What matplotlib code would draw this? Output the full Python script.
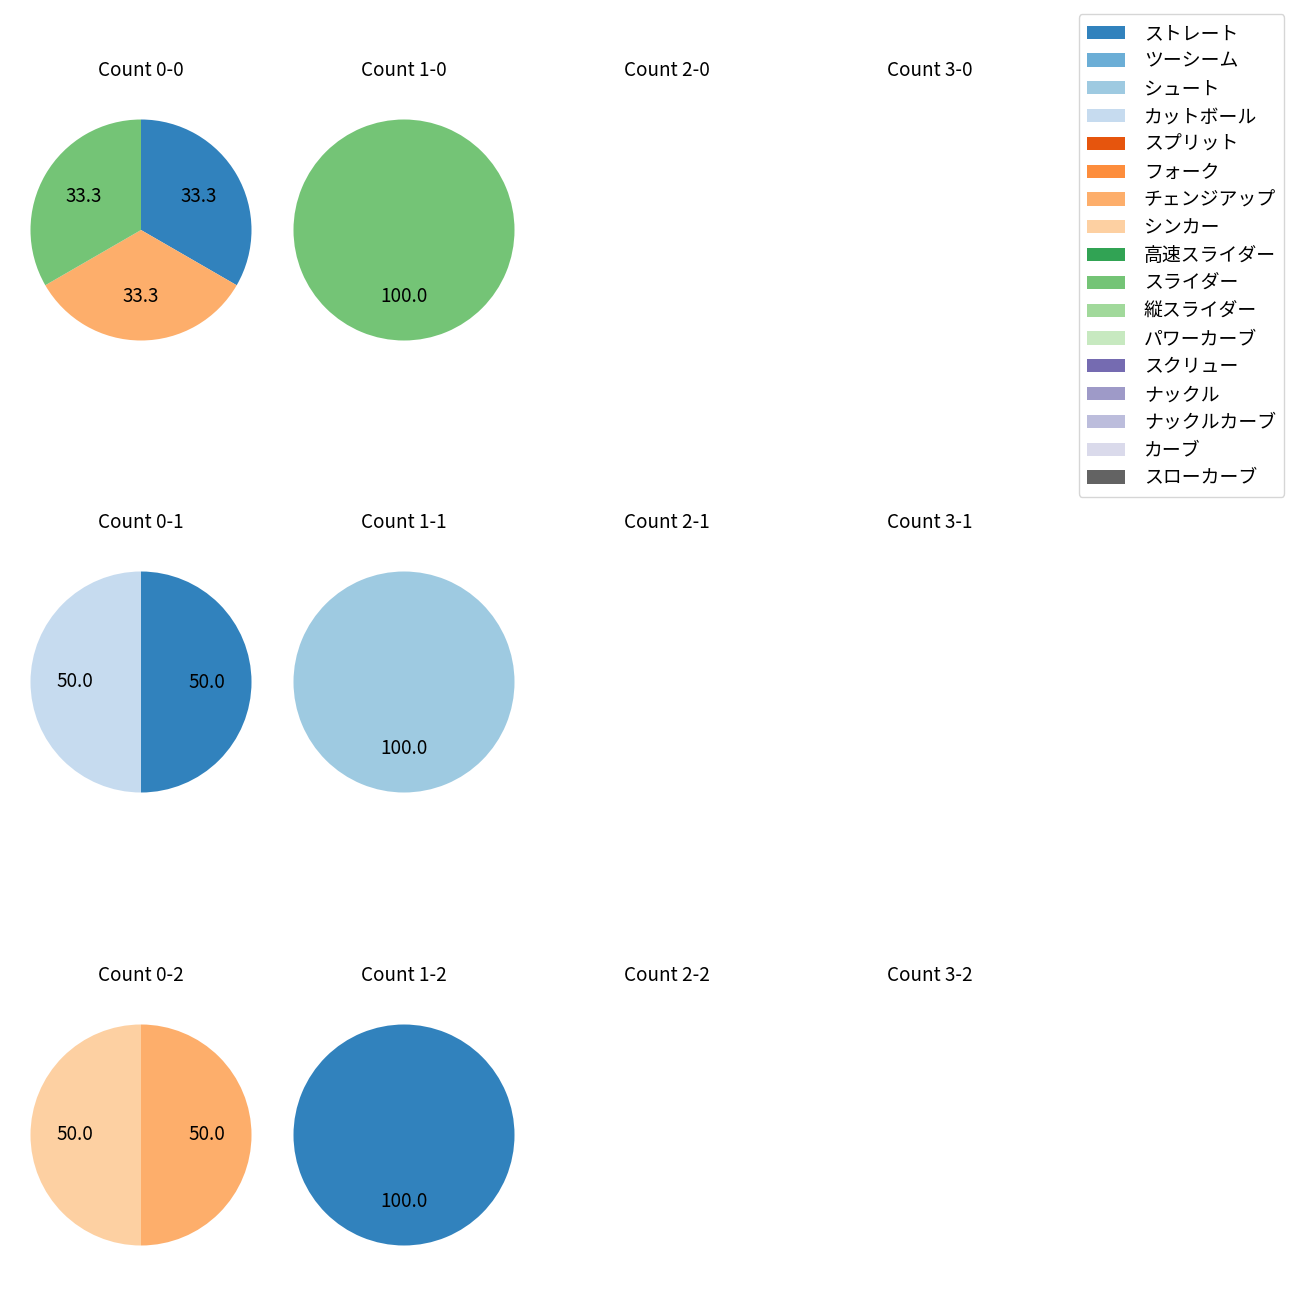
import matplotlib
matplotlib.use("Agg")
import matplotlib.pyplot as plt
from matplotlib.patches import Patch

plt.rcParams["font.family"] = ["Noto Sans CJK JP", "DejaVu Sans"]
plt.rcParams["font.size"] = 13.6

# ── Data ─────────────────────────────────────────────
PITCHES = [
    "ストレート", "ツーシーム", "シュート", "カットボール", "スプリット",
    "フォーク", "チェンジアップ", "シンカー", "高速スライダー", "スライダー",
    "縦スライダー", "パワーカーブ", "スクリュー", "ナックル", "ナックルカーブ",
    "カーブ", "スローカーブ",
]
COLORS = [
    "#3182bd", "#6baed6", "#9ecae1", "#c6dbef", "#e6550d",
    "#fd8d3c", "#fdae6b", "#fdd0a2", "#31a354", "#74c476",
    "#a1d99b", "#c7e9c0", "#756bb1", "#9e9ac8", "#bcbddc",
    "#dadaeb", "#636363",
]

# pitch counts per (balls, strikes); missing = no pitches
COUNT_00 = {"ストレート": 1, "チェンジアップ": 1, "スライダー": 1}
COUNT_10 = {"スライダー": 1}
COUNT_01 = {"ストレート": 1, "カットボール": 1}
COUNT_11 = {"シュート": 1}
COUNT_02 = {"チェンジアップ": 1, "シンカー": 1}
COUNT_12 = {"ストレート": 1}

DATA = {
    (0, 0): COUNT_00, (1, 0): COUNT_10,
    (0, 1): COUNT_01, (1, 1): COUNT_11,
    (0, 2): COUNT_02, (1, 2): COUNT_12,
}

color_of = dict(zip(PITCHES, COLORS))

fig = plt.figure(figsize=(13, 13), dpi=100)

# layout in pixels (1300 x 1300 canvas)
R = 110.5
W = 2 * 1.25 * R
col_cx = [141, 404, 667, 930]
row_cy = [230, 682, 1135]

for s, cy in enumerate(row_cy):
    for b, cx in enumerate(col_cx):
        ax = fig.add_axes([(cx - W / 2) / 1300, 1 - (cy + W / 2) / 1300,
                           W / 1300, W / 1300])
        ax.set_title(f"Count {b}-{s}", fontsize=13.6, pad=11.5)
        counts = DATA.get((b, s), {})
        if counts:
            labels = [p for p in PITCHES if p in counts]
            vals = [counts[p] for p in labels]
            ax.pie(vals, colors=[color_of[p] for p in labels],
                   autopct="%.1f", startangle=90, counterclock=False,
                   textprops={"fontsize": 13.6})
        else:
            ax.axis("off")

handles = [Patch(facecolor=c, label=p) for p, c in zip(PITCHES, COLORS)]
fig.legend(handles=handles, loc="upper right", bbox_to_anchor=(0.988, 0.989),
           borderaxespad=0, fontsize=13.6, labelspacing=0.36,
           handletextpad=1.0, borderpad=0.45)

fig.savefig("out.png")
